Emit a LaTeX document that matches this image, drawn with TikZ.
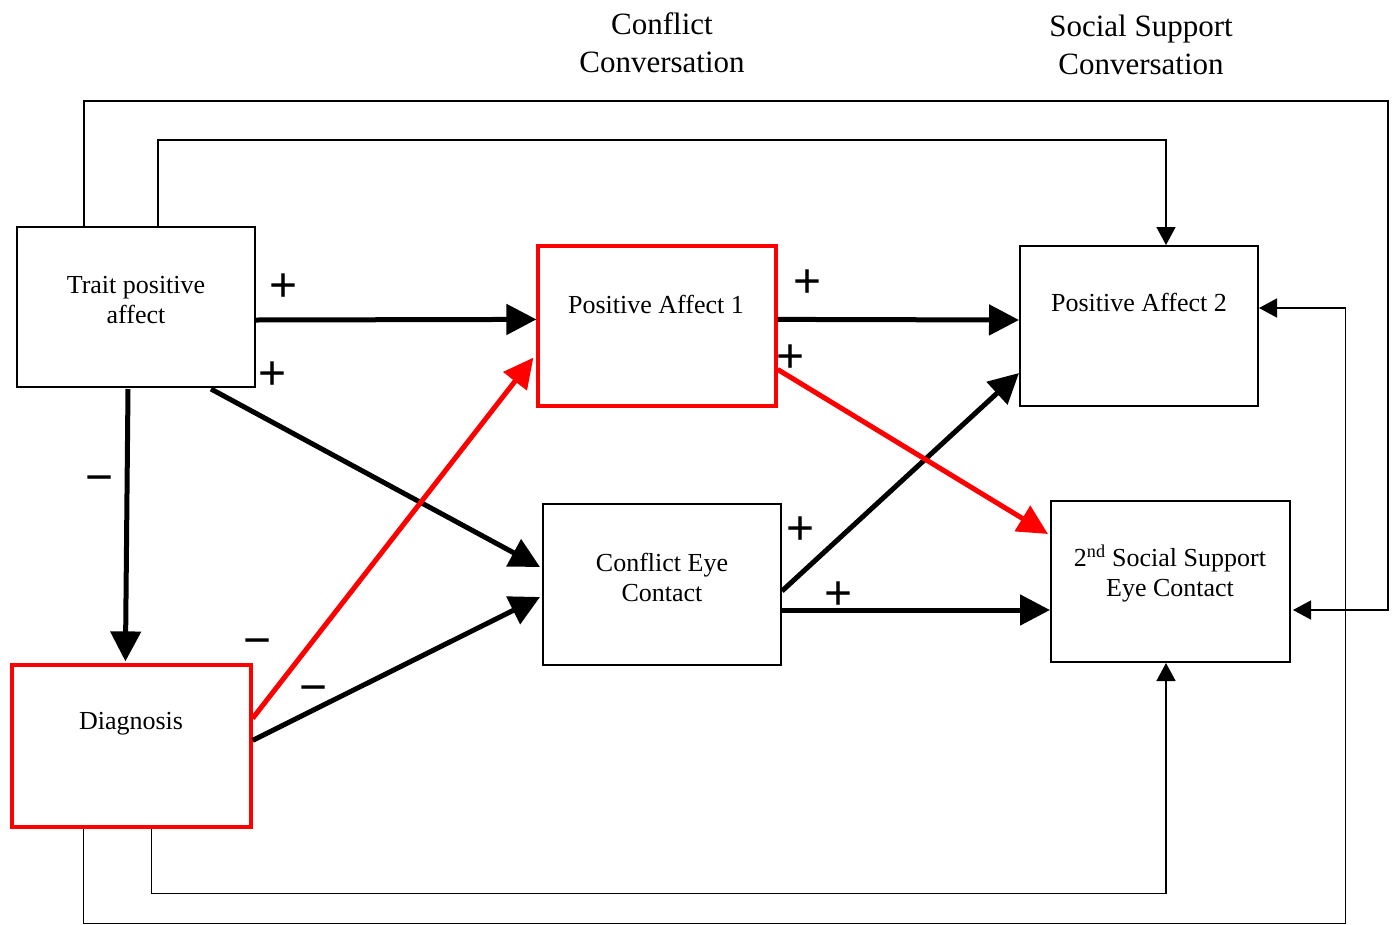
\documentclass[tikz,border=0pt]{standalone}
\usepackage{fontspec}
\setmainfont{Liberation Serif}
\newfontfamily\signfont{Liberation Sans}
\usetikzlibrary{arrows.meta,calc}
\definecolor{boxred}{RGB}{255,0,0}
\begin{document}
\begin{tikzpicture}[x=1pt,y=-1pt,
  box/.style={draw=black,line width=2pt,minimum width=238pt,minimum height=160pt,inner sep=0pt},
  redbox/.style={box,draw=boxred,line width=3.2pt},
  label text/.style={font=\fontsize{26}{30}\selectfont,align=center,inner sep=0pt},
  title text/.style={font=\fontsize{31}{38}\selectfont,align=center,inner sep=0pt},
  sign/.style={font=\signfont\fontsize{48}{48}\selectfont,inner sep=0pt},
  thick path/.style={line width=5pt,-{Triangle[length=30pt,width=30pt]}},
  red path/.style={line width=5pt,draw=boxred,-{Triangle[length=30pt,width=29pt]},color=boxred},
  thin path/.style={line width=1.5pt,-{Triangle[length=18pt,width=19pt]}}]
\useasboundingbox (0,0) rectangle (1395,924);

% headings
\node[title text] (hconf) at (662,43) {Conflict\\Conversation};
\node[title text] (hsoc) at (1141,45) {Social Support\\Conversation};

% variable boxes
\node[box] (trait) at (136,307) {};
\node[redbox] (pa1) at (657,326) {};
\node[box] (pa2) at (1139,326) {};
\node[box,minimum height=161pt] (cec) at (662,584.5) {};
\node[box,minimum width=239pt,minimum height=161pt] (ssec) at (1170.5,581.5) {};
\node[redbox,minimum width=239pt,minimum height=162pt] (diag) at (131.5,746) {};

% box captions
\node[label text] (ttrait) at (136,300) {Trait positive\\affect};
\node[label text] (tpa1) at (656,304) {Positive Affect 1};
\node[label text] (tpa2) at (1139,302) {Positive Affect 2};
\node[label text] (tcec) at (662,577) {Conflict Eye\\Contact};
\node[label text] (tssec) at (1170,573) {2\textsuperscript{nd} Social Support\\Eye Contact};
\node[label text] (tdiag) at (131,724) {Diagnosis};

% direct paths
\draw[thick path] ($(trait.north east)+(0,94)$) -- ($(pa1.north west)+(0,75)$);
\draw[thick path] ($(pa1.north east)+(0,75)$) -- ($(pa2.north west)+(0,75)$);
\draw[thick path] ($(trait.south west)+(195,1)$) -- ($(cec.north west)+(-2,64)$);
\draw[thick path] ($(trait.south west)+(112,1)$) -- ($(diag.north west)+(115,-2)$);
\draw[thick path] ($(diag.north east)+(0,77)$) -- ($(cec.north west)+(-2,94)$);
\draw[thick path] ($(cec.north east)+(0,88)$) -- ($(pa2.north west)+(0,128)$);
\draw[thick path] ($(cec.north east)+(0,107)$) -- ($(ssec.north west)+(0,110)$);
\draw[red path] ($(diag.north east)+(0,55)$) -- ($(pa1.south west)+(-3,-50)$);
\draw[red path] ($(pa1.north east)+(0,125)$) -- ($(ssec.north west)+(-2,34)$);

% stability and control paths
\draw[thin path] ($(trait.north west)+(142,0)$) -- ++(0,-86) -| ($(pa2.north west)+(147,0)$);
\draw[thin path] ($(trait.north west)+(68,0)$) -- ++(0,-125) -- ++(1304,0) |- ($(ssec.north east)+(2,110)$);
\draw[thin path] ($(diag.south west)+(141,0)$) -- ++(0,65) -| ($(ssec.south west)+(116,0)$);
\draw[thin path] ($(diag.south west)+(73,0)$) -- ++(0,95) -- ++(1262,0) |- ($(pa2.north east)+(0,63)$);

% signs of the effects
\node[sign] (s1) at (284,288) {+};
\node[sign] (s2) at (273,376) {+};
\node[sign] (s3) at (808,284) {+};
\node[sign] (s4) at (791,359) {+};
\node[sign] (s5) at (801,531) {+};
\node[sign] (s6) at (839,596) {+};
\node[sign] (m1) at (100,485) {−};
\node[sign] (m2) at (258,648) {−};
\node[sign] (m3) at (314,695) {−};
\end{tikzpicture}
\end{document}
